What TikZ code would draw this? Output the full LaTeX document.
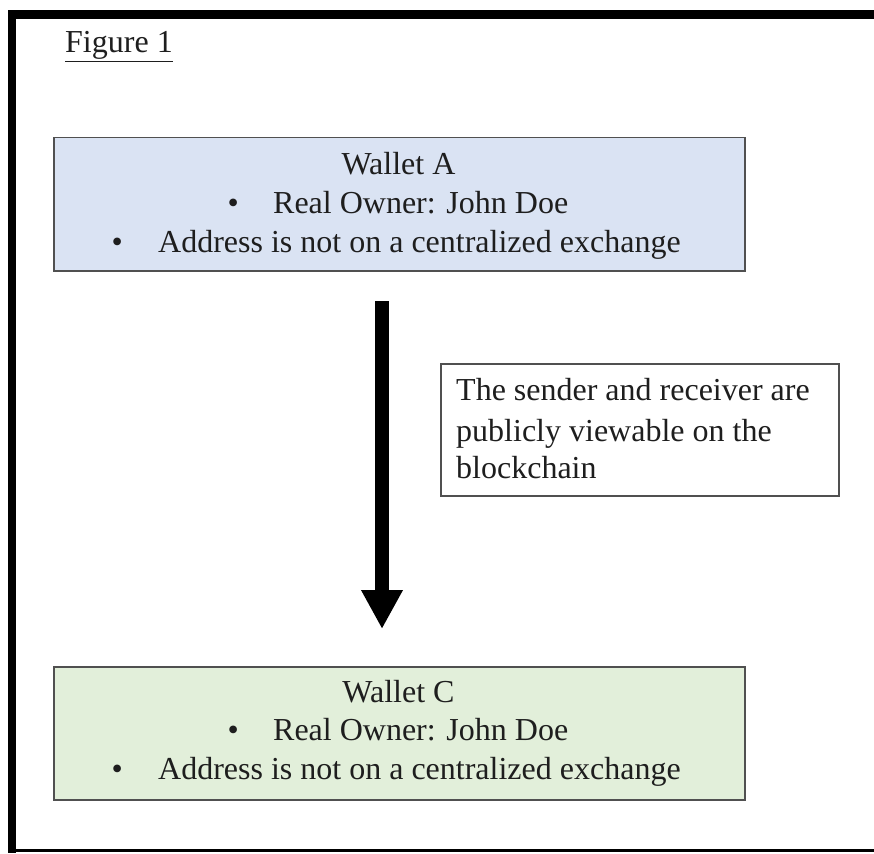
\documentclass[tikz,border=0pt]{standalone}
\usepackage{fontspec}
\setmainfont{Liberation Serif}
\usetikzlibrary{arrows.meta}
\definecolor{boxblue}{HTML}{DAE3F3}
\definecolor{boxgreen}{HTML}{E2EFDA}
\definecolor{boxline}{HTML}{505050}
\definecolor{txt}{HTML}{1E1E1E}
\begin{document}
\begin{tikzpicture}[x=1pt,y=-1pt,
  walletbox/.style={draw=boxline,line width=1.5pt,anchor=north west,inner sep=0pt},
  txtline/.style={anchor=base west,inner sep=0pt,font=\fontsize{32}{38}\selectfont,text=txt},
  bulletline/.style={txtline}]
\useasboundingbox[fill=white] (0,0) rectangle (874,853);
% frame
\fill[black] (8,10) rectangle (874,19);
\fill[black] (8,10) rectangle (16,853);
\fill[black] (16,848.5) rectangle (874,851.5);
% title
\node[txtline] (title) at (65,53) {\underline{Figure 1}};
% Wallet A
\node[walletbox,fill=boxblue,minimum width=691pt,minimum height=133pt] (walletA) at (53,137) {};
\node[txtline,anchor=base] (aT) at (398.5,175) {Wallet A};
\node[bulletline] (a1) at (227.5,213) {\textbullet\hspace{34.3pt}Real Owner: John Doe};
\node[bulletline] (a2) at (111.5,252) {\textbullet\hspace{35.3pt}Address is not on a centralized exchange};
% Wallet C
\node[walletbox,fill=boxgreen,minimum width=691pt,minimum height=133pt] (walletC) at (53,666) {};
\node[txtline,anchor=base] (cT) at (398.5,702) {Wallet C};
\node[bulletline] (c1) at (227.5,740) {\textbullet\hspace{34.3pt}Real Owner: John Doe};
\node[bulletline] (c2) at (111.5,779) {\textbullet\hspace{35.3pt}Address is not on a centralized exchange};
% note box
\node[walletbox,fill=white,minimum width=398pt,minimum height=132pt] (note) at (440,363) {};
\node[txtline] (n1) at (456,400) {The sender and receiver are};
\node[txtline] (n2) at (456,441) {publicly viewable on the};
\node[txtline] (n3) at (456,478) {blockchain};
% arrow
\coordinate (arrS) at (382,301);
\coordinate (arrE) at (382,629);
\draw[line width=14pt,-{Triangle[width=39pt,length=39pt]}] (arrS) -- (arrE);
\end{tikzpicture}
\end{document}
